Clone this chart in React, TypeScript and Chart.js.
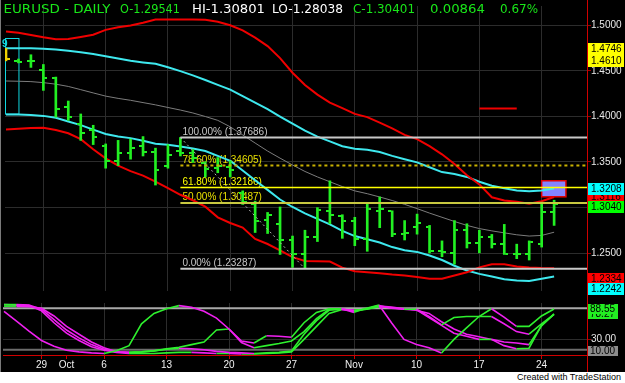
import React, { useEffect, useRef } from "react";
import { Chart, registerables } from "chart.js";

Chart.register(...registerables);

// ---------------- DATA ----------------
// bar index 0 = Sep 24 2008 ... 44 = Nov 25 2008 (daily EURUSD)
const opens = [1.4730, 1.4609, 1.4609, 1.4506, 1.4418, 1.4098, 1.3921, 1.3850, 1.3673, 1.3513, 1.3602, 1.3673, 1.3609, 1.3460, 1.3620, 1.3602, 1.3488, 1.3432, 1.3442, 1.3159, 1.3034, 1.2864, 1.2822, 1.2644, 1.2485, 1.2680, 1.2957, 1.2910, 1.2857, 1.2655, 1.2960, 1.2957, 1.2715, 1.2786, 1.2786, 1.2520, 1.2503, 1.2758, 1.2616, 1.2680, 1.2602, 1.2495, 1.2485, 1.2602, 1.29541];
const highs = [1.4746, 1.4630, 1.4677, 1.4570, 1.4432, 1.4169, 1.4027, 1.3903, 1.3698, 1.3737, 1.3751, 1.3779, 1.3652, 1.3691, 1.37686, 1.3637, 1.3503, 1.3549, 1.3513, 1.3183, 1.3070, 1.2946, 1.3006, 1.2687, 1.2751, 1.2999, 1.3293, 1.2921, 1.2893, 1.3045, 1.3116, 1.2964, 1.2857, 1.2928, 1.2804, 1.2634, 1.2857, 1.2822, 1.2751, 1.2705, 1.2815, 1.2598, 1.2634, 1.3059, 1.30801];
const lows = [1.4610, 1.4588, 1.4538, 1.4286, 1.3992, 1.3957, 1.3737, 1.3691, 1.3432, 1.3460, 1.3531, 1.3566, 1.3247, 1.3432, 1.3566, 1.3495, 1.3336, 1.3382, 1.3336, 1.3034, 1.2726, 1.2715, 1.2485, 1.2343, 1.23287, 1.2627, 1.2822, 1.2662, 1.2581, 1.2520, 1.2779, 1.2680, 1.2644, 1.2708, 1.2502, 1.2460, 1.2378, 1.2556, 1.2503, 1.2556, 1.2485, 1.2439, 1.2424, 1.2566, 1.28038];
const closes = [1.4630, 1.4602, 1.4606, 1.4425, 1.4081, 1.3999, 1.3822, 1.3769, 1.3513, 1.3595, 1.3655, 1.3609, 1.3410, 1.3577, 1.3600, 1.3549, 1.3418, 1.3460, 1.3407, 1.3063, 1.2857, 1.2921, 1.2644, 1.2485, 1.2680, 1.2974, 1.2921, 1.2857, 1.2655, 1.2981, 1.2981, 1.2715, 1.2722, 1.2829, 1.2527, 1.2513, 1.2758, 1.2609, 1.2680, 1.2602, 1.2495, 1.2485, 1.2623, 1.2953, 1.30401];

const midLine = [1.4389, 1.4386, 1.4382, 1.4371, 1.4354, 1.4329, 1.4294, 1.4258, 1.4223, 1.4198, 1.4177, 1.4152, 1.4127, 1.4098, 1.4070, 1.4038, 1.3999, 1.3957, 1.3886, 1.3797, 1.3708, 1.3620, 1.3542, 1.3467, 1.3396, 1.3336, 1.3283, 1.3230, 1.3183, 1.3152, 1.3116, 1.3077, 1.3035, 1.2988, 1.2939, 1.2893, 1.2847, 1.2804, 1.2769, 1.2744, 1.2722, 1.2701, 1.2687, 1.2694, 1.2729];
const cyanUpper = [1.4747, 1.4747, 1.4747, 1.4744, 1.4735, 1.4722, 1.4705, 1.4685, 1.4660, 1.4635, 1.4610, 1.4592, 1.4577, 1.4540, 1.4497, 1.4450, 1.4400, 1.4347, 1.4294, 1.4223, 1.4152, 1.4081, 1.3999, 1.3921, 1.3843, 1.3779, 1.3726, 1.3673, 1.3645, 1.3634, 1.3609, 1.3567, 1.3531, 1.3496, 1.3442, 1.3389, 1.3368, 1.3336, 1.3283, 1.3240, 1.3212, 1.3187, 1.3180, 1.3187, 1.3208];
const cyanLower = [1.4020, 1.4020, 1.4017, 1.4006, 1.3985, 1.3945, 1.3905, 1.3855, 1.3808, 1.3779, 1.3762, 1.3733, 1.3700, 1.3688, 1.3670, 1.3648, 1.3620, 1.3567, 1.3513, 1.3407, 1.3300, 1.3194, 1.3088, 1.3006, 1.2935, 1.2875, 1.2815, 1.2744, 1.2687, 1.2652, 1.2616, 1.2566, 1.2531, 1.2513, 1.2474, 1.2424, 1.2361, 1.2308, 1.2272, 1.2244, 1.2212, 1.2198, 1.2194, 1.2219, 1.2242];
const redUpper = [1.4932, 1.4918, 1.4893, 1.4868, 1.4847, 1.4850, 1.4872, 1.4896, 1.4950, 1.4978, 1.4999, 1.5028, 1.5063, 1.5063, 1.5063, 1.5063, 1.5060, 1.5040, 1.5000, 1.4945, 1.4865, 1.4772, 1.4640, 1.4480, 1.4345, 1.4240, 1.4152, 1.4091, 1.4028, 1.3992, 1.3932, 1.3868, 1.3797, 1.3751, 1.3673, 1.3584, 1.3478, 1.3354, 1.3254, 1.3113, 1.3077, 1.3063, 1.3042, 1.3070, 1.3116];
const redLower = [1.3857, 1.3866, 1.3872, 1.3875, 1.3850, 1.3815, 1.3750, 1.3640, 1.3540, 1.3460, 1.3400, 1.3350, 1.3285, 1.3212, 1.3140, 1.3080, 1.3010, 1.2893, 1.2830, 1.2780, 1.2655, 1.2600, 1.2530, 1.2455, 1.2414, 1.2410, 1.2407, 1.2340, 1.2300, 1.2290, 1.2280, 1.2265, 1.2254, 1.2237, 1.2219, 1.2219, 1.2254, 1.2290, 1.2343, 1.2378, 1.2378, 1.2354, 1.2343, 1.2336, 1.2334];

// stochastic panel (0..100)
const stochA = [84, 65, 46, 28, 17, 9, 6, 4, 3, 8, 18, 60, 80, 89, 95, 92, 84, 71, 50, 27, 23, 37, 36, 34, 62, 82, 89, 89, 82, 90, 96, 62, 30, 20, 14, 4, 30, 52, 74, 89, 73, 55, 55, 75, 88.55];
const stochB = [94, 94, 93, 90, 75, 55, 40, 25, 14, 6, 5, 6, 8, 12, 15, 20, 25, 48, 50, 24, 14, 18, 22, 27, 45, 70, 88, 89, 84, 89, 95, 90, 88, 88, 74, 58, 72, 74, 74, 74, 60, 45, 40, 60, 78.27];
const stochC = [97, 97, 96, 88, 68, 48, 33, 20, 11, 6, 5, 6, 8, 11, 13, 12, 10, 7, 5, 4, 3, 4, 5, 7.5, 40, 66, 86, 88, 86, 88, 94, 92, 89, 87, 72, 57, 42, 36, 30, 30, 25, 23, 20, 56, 79];
const stochD = [97, 96, 95, 85, 62, 42, 28, 16, 9, 5, 3, 3, 3, 4, 5, 5, 4, 3, 3, 2, 2, 3, 4, 6, 30, 55, 80, 87, 86, 88, 93, 91, 88, 86, 80, 64, 50, 40, 35, 30, 18, 12, 13, 57, 78];
const stochLevels = [90, 10];
const stochAxisTicks = [30];

// axes
const xTickIdx = [3, 5, 8, 13, 18, 23, 28, 33, 38, 43];
const xTickLabels = ["29", "Oct", "6", "13", "20", "27", "Nov", "10", "17", "24"];
const mondayIdx = [3, 8, 13, 18, 23, 28, 33, 38, 43];
const priceTicks = [1.25, 1.3, 1.35, 1.4, 1.45, 1.5];

// Fibonacci retracement (from bar 14 high to bar 24 low)
const fibStartIdx = 14;
const fibEndIdx = 24;
const fibLevels = [1.37686, 1.34605, 1.32186, 1.30487, 1.23287];
const fibNames = ["100.00%", "78.60%", "61.80%", "50.00%", "0.00%"];

// right-side value labels
const priceLabelValues = [1.4746, 1.4610, 1.3116, 1.3208, 1.3040, 1.2334, 1.2242];

// header
const headerParts = ["EURUSD - DAILY", "O-1.29541", "HI-1.30801", "LO-1.28038", "C-1.30401", "0.00864", "0.67%"];

// misc marks
const redMarkLevel = 1.4087;
const redMarkFrom = 38;
const redMarkTo = 41;
const pinkBox = { x0: 43, x1: 44.95, hi: 1.3294, lo: 1.3118 };
const cyanBox = { x0: -0.12, x1: 0.96, hi: 1.4861, lo: 1.4031 };

// ---------------- STYLE ----------------
const X_MIN = -0.08;
const X_MAX = 46.64;
const Y_MIN = 1.2084;
const Y_MAX = 1.5212;
const GRID = "#2c2c2c";
const BAR_GREEN = "#22f022";
const BAR_YELLOW = "#f0d000";
const CYAN = "#3ee8ee";
const RED = "#f00000";
const AXIS_RED = "#d00000";
const ST_GREEN = "#2ef02e";
const ST_MAGENTA = "#f020f0";
const SANS = "'Liberation Sans', Arial, sans-serif";

const headerStyle = [
  { x: 3.5, w: 107, c: "#19e619" },
  { x: 120, w: 60, c: "#19e619" },
  { x: 192, w: 73, c: "#ffffff" },
  { x: 272, w: 71, c: "#ffffff" },
  { x: 353, w: 62, c: "#19e619" },
  { x: 430, w: 55, c: "#19e619" },
  { x: 500, w: 38, c: "#19e619" },
];
const fibLineStyle = [
  { c: "#c8c8c8", w: 2, dash: [] as number[], t: "#c8c8c8" },
  { c: "#c8b000", w: 2, dash: [3, 3], t: "#e8e000" },
  { c: "#ffff00", w: 1.5, dash: [] as number[], t: "#ffff00" },
  { c: "#c8c840", w: 2, dash: [] as number[], t: "#e8e000" },
  { c: "#c8c8c8", w: 2, dash: [] as number[], t: "#c8c8c8" },
];
const priceLabelStyle = [
  { bg: "#ffff00", dy: 1 },
  { bg: "#ffff00", dy: 0 },
  { bg: "#ff0000", dy: 0 },
  { bg: "#00ffff", dy: 0 },
  { bg: "#00ff00", dy: 3 },
  { bg: "#ff0000", dy: 11 },
  { bg: "#00ffff", dy: 12 },
];

const pts = (arr: number[]) => arr.map((v, i) => ({ x: i, y: v }));

function tickImage(color: string, side: "left" | "right") {
  const c = document.createElement("canvas");
  c.width = 8;
  c.height = 2;
  const g = c.getContext("2d")!;
  g.fillStyle = color;
  if (side === "left") g.fillRect(0, 0, 3, 2);
  else g.fillRect(5, 0, 3, 2);
  return c;
}

function fitText(ctx: CanvasRenderingContext2D, text: string, x: number, y: number, w: number) {
  const m = ctx.measureText(text).width;
  ctx.save();
  ctx.translate(x, y);
  ctx.scale(w / m, 1);
  ctx.fillText(text, 0, 0);
  ctx.restore();
}

function levelLine(level: number, from: number, to: number) {
  return [
    { x: from, y: level },
    { x: to, y: level },
  ];
}

export default function App() {
  const mainRef = useRef<HTMLCanvasElement>(null);
  const lowRef = useRef<HTMLCanvasElement>(null);

  useEffect(() => {
    const openG = tickImage(BAR_GREEN, "left");
    const closeG = tickImage(BAR_GREEN, "right");
    const openY = tickImage(BAR_YELLOW, "left");
    const closeY = tickImage(BAR_YELLOW, "right");

    const fibDatasets = fibLevels.map((lv, k) => ({
      type: "line" as const,
      data: levelLine(lv, fibStartIdx, X_MAX),
      borderColor: fibLineStyle[k].c,
      borderWidth: fibLineStyle[k].w,
      borderDash: fibLineStyle[k].dash,
      pointRadius: 0,
      fill: false,
    }));

    const leftFrame = (ctx: CanvasRenderingContext2D, h: number) => {
      ctx.strokeStyle = "#7a7a7a";
      ctx.lineWidth = 1;
      ctx.beginPath();
      ctx.moveTo(0.5, 0);
      ctx.lineTo(0.5, h);
      ctx.stroke();
    };

    const mainPlugin = {
      id: "mainDecor",
      beforeDatasetsDraw(chart: any) {
        const { ctx, scales } = chart;
        const x = scales.x;
        const y = scales.y;
        ctx.save();
        // pink box
        ctx.fillStyle = "#8484ff";
        const px0 = x.getPixelForValue(pinkBox.x0);
        const px1 = x.getPixelForValue(pinkBox.x1);
        const py0 = y.getPixelForValue(pinkBox.hi);
        const py1 = y.getPixelForValue(pinkBox.lo);
        ctx.fillRect(px0, py0, px1 - px0, py1 - py0);
        ctx.strokeStyle = "#e00000";
        ctx.lineWidth = 1.5;
        ctx.strokeRect(px0, py0, px1 - px0, py1 - py0);
        // cyan box
        const cx0 = x.getPixelForValue(cyanBox.x0);
        const cx1 = x.getPixelForValue(cyanBox.x1);
        const cy0 = y.getPixelForValue(cyanBox.hi);
        const cy1 = y.getPixelForValue(cyanBox.lo);
        ctx.strokeStyle = "#10d8e0";
        ctx.lineWidth = 1;
        ctx.strokeRect(Math.round(cx0) + 0.5, Math.round(cy0) + 0.5, cx1 - cx0, cy1 - cy0);
        ctx.fillStyle = "#10d8e0";
        ctx.font = `bold 10px ${SANS}`;
        ctx.textBaseline = "alphabetic";
        ctx.fillText("9", 2, Math.round(cy0) + 9);
        // fib labels
        ctx.font = `10px ${SANS}`;
        fibLevels.forEach((lv, k) => {
          ctx.fillStyle = fibLineStyle[k].t;
          const tx = x.getPixelForValue(fibStartIdx) + 2;
          const ty = y.getPixelForValue(lv) - 3;
          ctx.fillText(`${fibNames[k]} (${lv.toFixed(5)})`, tx, ty);
        });
        ctx.restore();
      },
      afterDraw(chart: any) {
        const { ctx, scales, height } = chart;
        const y = scales.y;
        ctx.save();
        leftFrame(ctx, height);
        // axis line full height
        ctx.strokeStyle = AXIS_RED;
        ctx.lineWidth = 1;
        ctx.beginPath();
        ctx.moveTo(587.5, 0);
        ctx.lineTo(587.5, height);
        ctx.stroke();
        // header
        ctx.font = `12px 'DejaVu Sans', sans-serif`;
        ctx.textBaseline = "alphabetic";
        headerParts.forEach((t, k) => {
          ctx.fillStyle = headerStyle[k].c;
          fitText(ctx, t, headerStyle[k].x, 13, headerStyle[k].w);
        });
        // right value labels
        ctx.font = `10px ${SANS}`;
        ctx.textBaseline = "middle";
        priceLabelValues.forEach((v, k) => {
          const cy = Math.round(y.getPixelForValue(v) + priceLabelStyle[k].dy);
          ctx.fillStyle = priceLabelStyle[k].bg;
          ctx.fillRect(588, cy - 6, 36, 12);
          ctx.fillStyle = "#000";
          ctx.fillText(v.toFixed(4), 591, cy + 0.5);
        });
        ctx.restore();
      },
    };

    const main = new Chart(mainRef.current!, {
      type: "line",
      data: {
        datasets: [
          ...fibDatasets,
          {
            type: "line",
            data: [
              { x: fibStartIdx, y: highs[fibStartIdx] },
              { x: fibEndIdx, y: lows[fibEndIdx] },
            ],
            borderColor: "#b4b4b4",
            borderWidth: 1,
            borderDash: [2, 3],
            pointRadius: 0,
          },
          {
            type: "line",
            data: pts(opens),
            showLine: false,
            pointRadius: 3,
            pointStyle: (c: any) => (c.dataIndex === 0 ? openY : openG),
          },
          {
            type: "line",
            data: pts(closes),
            showLine: false,
            pointRadius: 3,
            pointStyle: (c: any) => (c.dataIndex === 0 ? closeY : closeG),
          },
          {
            type: "bar",
            data: highs.map((h, i) => ({ x: i, y: [lows[i], h] })),
            backgroundColor: highs.map((_, i) => (i === 0 ? BAR_YELLOW : BAR_GREEN)),
            borderWidth: 0,
            barThickness: 2,
          },
          {
            type: "line",
            data: levelLine(redMarkLevel, redMarkFrom, redMarkTo),
            borderColor: RED,
            borderWidth: 2,
            pointRadius: 0,
          },
          { type: "line", data: pts(redUpper), borderColor: RED, borderWidth: 2, pointRadius: 0 },
          { type: "line", data: pts(redLower), borderColor: RED, borderWidth: 2, pointRadius: 0 },
          { type: "line", data: pts(cyanUpper), borderColor: CYAN, borderWidth: 2, pointRadius: 0 },
          { type: "line", data: pts(cyanLower), borderColor: CYAN, borderWidth: 2, pointRadius: 0 },
          { type: "line", data: pts(midLine), borderColor: "#7c7c7c", borderWidth: 1, pointRadius: 0 },
        ] as any,
      },
      options: {
        animation: false,
        responsive: false,
        events: [],
        layout: { padding: { left: 3, top: 2, right: 0, bottom: 0 } },
        plugins: { legend: { display: false }, tooltip: { enabled: false } },
        scales: {
          x: {
            type: "linear",
            min: X_MIN,
            max: X_MAX,
            offset: false,
            afterBuildTicks: (s: any) => {
              s.ticks = mondayIdx.map((v) => ({ value: v }));
            },
            afterFit: (s: any) => {
              s.height = 1;
            },
            ticks: { display: false },
            grid: { color: GRID, drawTicks: false, offset: false },
            border: { display: false },
          },
          y: {
            type: "linear",
            position: "right",
            min: Y_MIN,
            max: Y_MAX,
            afterBuildTicks: (s: any) => {
              s.ticks = priceTicks.map((v) => ({ value: v }));
            },
            afterFit: (s: any) => {
              s.width = 38;
            },
            ticks: {
              color: "#e8e8e8",
              padding: 0,
              font: { family: SANS, size: 10 },
              callback: (v: any) => Number(v).toFixed(4),
            },
            grid: { color: GRID, tickColor: "#a00000", tickLength: 4, drawTicks: true },
            border: { color: AXIS_RED, width: 1 },
          },
        },
      } as any,
      plugins: [mainPlugin],
    });

    const segColor = (c: any) => (c.p1.parsed.y >= c.p0.parsed.y ? ST_GREEN : ST_MAGENTA);
    const stochDs = (arr: number[]) => ({
      type: "line",
      data: pts(arr),
      borderWidth: 1.6,
      pointRadius: 0,
      borderColor: ST_GREEN,
      segment: { borderColor: segColor },
    });

    const lowPlugin = {
      id: "lowDecor",
      afterDraw(chart: any) {
        const { ctx, scales, height } = chart;
        const y = scales.y;
        ctx.save();
        leftFrame(ctx, height);
        ctx.strokeStyle = AXIS_RED;
        ctx.lineWidth = 1;
        ctx.beginPath();
        ctx.moveTo(587.5, 0);
        ctx.lineTo(587.5, height);
        ctx.stroke();
        ctx.font = `10px ${SANS}`;
        ctx.textBaseline = "middle";
        const boxes = [
          { v: stochB[stochB.length - 1], bg: "#22ee22", dy: 0 },
          { v: stochA[stochA.length - 1], bg: "#22ee22", dy: 0 },
          { v: stochLevels[1], bg: "#8c8c8c", dy: 1 },
        ];
        boxes.forEach((b) => {
          const cy = Math.round(y.getPixelForValue(b.v) + b.dy);
          ctx.fillStyle = b.bg;
          ctx.fillRect(588, cy - 5, 30, 10);
          ctx.fillStyle = "#000";
          ctx.fillText(b.v.toFixed(2), 590, cy + 0.5);
        });
        ctx.restore();
      },
    };

    const low = new Chart(lowRef.current!, {
      type: "line",
      data: {
        datasets: [
          stochDs(stochA),
          stochDs(stochB),
          stochDs(stochC),
          stochDs(stochD),
          {
            type: "line",
            data: levelLine(stochLevels[0], X_MIN, X_MAX),
            borderColor: "#a8a8a8",
            borderWidth: 2,
            pointRadius: 0,
          },
          {
            type: "line",
            data: levelLine(stochLevels[1], X_MIN, X_MAX),
            borderColor: "#6c6c6c",
            borderWidth: 2,
            pointRadius: 0,
          },
        ] as any,
      },
      options: {
        animation: false,
        responsive: false,
        events: [],
        layout: { padding: { left: 3, top: 5, right: 0, bottom: 0 } },
        plugins: { legend: { display: false }, tooltip: { enabled: false } },
        scales: {
          x: {
            type: "linear",
            min: X_MIN,
            max: X_MAX,
            offset: false,
            afterBuildTicks: (s: any) => {
              s.ticks = xTickIdx.map((v) => ({ value: v }));
            },
            afterFit: (s: any) => {
              s.height = 17;
            },
            ticks: {
              color: "#f0f0f0",
              padding: 0,
              maxRotation: 0,
              autoSkip: false,
              font: { family: SANS, size: 10 },
              callback: (_v: any, i: number) => xTickLabels[i],
            },
            grid: {
              color: (c: any) => (c.tick && c.tick.value === 5 ? "rgba(0,0,0,0)" : GRID),
              tickColor: AXIS_RED,
              tickLength: 4,
              offset: false,
            },
            border: { color: AXIS_RED, width: 1 },
          },
          y: {
            type: "linear",
            position: "right",
            min: 0,
            max: 100,
            afterBuildTicks: (s: any) => {
              s.ticks = stochAxisTicks.map((v) => ({ value: v }));
            },
            afterFit: (s: any) => {
              s.width = 38;
            },
            ticks: {
              color: "#e8e8e8",
              padding: 0,
              font: { family: SANS, size: 10 },
              callback: (v: any) => Number(v).toFixed(2),
            },
            grid: { color: GRID, tickColor: "#a00000", tickLength: 4 },
            border: { color: AXIS_RED, width: 1 },
          },
        },
      } as any,
      plugins: [lowPlugin],
    });

    return () => {
      main.destroy();
      low.destroy();
    };
  }, []);

  return (
    <div
      style={{
        position: "fixed",
        left: 0,
        top: 0,
        width: 625,
        height: 383,
        background: "#000",
        overflow: "hidden",
      }}
    >
      <canvas ref={mainRef} width={625} height={297} style={{ position: "absolute", left: 0, top: 0, width: 625, height: 297 }} />
      <canvas ref={lowRef} width={625} height={75} style={{ position: "absolute", left: 0, top: 297, width: 625, height: 75 }} />
      <div
        style={{
          position: "absolute",
          left: 0,
          top: 372,
          width: 625,
          height: 11,
          background: "#ffffff",
          color: "#000",
          font: `9px ${SANS}`,
          lineHeight: "11px",
          textAlign: "right",
          paddingRight: 4,
          boxSizing: "border-box",
        }}
      >
        Created with TradeStation
      </div>
    </div>
  );
}
